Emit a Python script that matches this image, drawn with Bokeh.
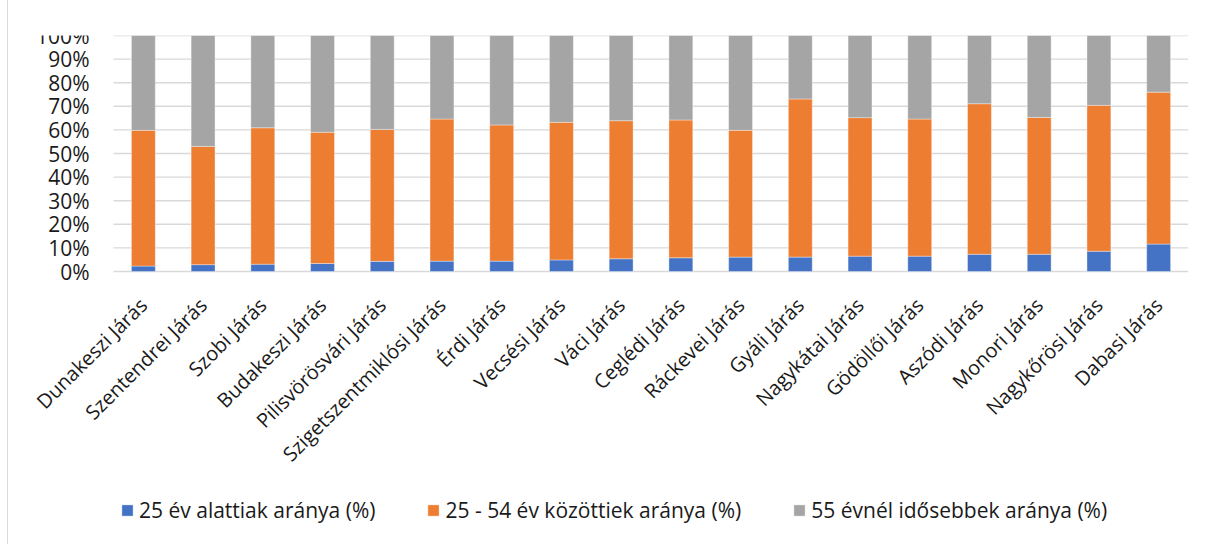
import math
from bokeh.plotting import figure
from bokeh.models import (ColumnDataSource, Range1d, Legend, LegendItem, LabelSet)
from bokeh.core.properties import value
from bokeh.embed import file_html
from bokeh.resources import INLINE

categories = ["Dunakeszi Járás", "Szentendrei Járás", "Szobi Járás", "Budakeszi Járás",
              "Pilisvörösvári Járás", "Szigetszentmiklósi Járás", "Érdi Járás", "Vecsési Járás",
              "Váci Járás", "Ceglédi Járás", "Ráckevei Járás", "Gyáli Járás", "Nagykátai Járás",
              "Gödöllői Járás", "Aszódi Járás", "Monori Járás", "Nagykőrösi Járás", "Dabasi Járás"]
under25 = [2.3, 2.9, 3.1, 3.4, 4.3, 4.4, 4.4, 4.9, 5.4, 5.8, 6.1, 6.1, 6.5, 6.5, 7.3, 7.3, 8.6, 11.6]
mid25_54 = [57.5, 50.1, 57.8, 55.6, 55.9, 60.2, 57.7, 58.3, 58.5, 58.4, 53.7, 67.0, 58.7, 58.1, 63.8, 58.0, 61.8, 64.4]
over55 = [40.2, 47.0, 39.1, 41.0, 39.8, 35.4, 37.9, 36.8, 36.1, 35.8, 40.2, 26.9, 34.8, 35.4, 28.9, 34.7, 29.6, 24.0]
series_names = ["25 év alattiak aránya (%)", "25 - 54 év közöttiek aránya (%)", "55 évnél idősebbek aránya (%)"]
colors = ["#4472C4", "#ED7D31", "#A5A5A5"]
y_ticks = [0, 10, 20, 30, 40, 50, 60, 70, 80, 90, 100]
y_tick_labels = [f"{t}%" for t in y_ticks]

n = len(categories)
keys = ["u", "m", "o"]
src = ColumnDataSource(dict(xi=list(range(n)), cat=categories, u=under25, m=mid25_54, o=over55,
                            base=[0] * n))
tick_src = ColumnDataSource(dict(x0=[-0.5] * len(y_ticks), x1=[n - 0.5] * len(y_ticks),
                                 y=y_ticks, text=y_tick_labels))

FONT = "Open Sans"
TXT = "#1a1a1a"
FRAME_H = 509
PX_PER_PCT = 2.36
PLOT_W = 1075           # width of the category area in px
LEFT_EXTRA = 103        # room left of the category area for the y labels / rotated labels
cat_px = PLOT_W / n

p = figure(x_range=Range1d(-0.5 - LEFT_EXTRA / cat_px, n - 0.5),
           y_range=Range1d(100 - FRAME_H / PX_PER_PCT, 100),
           frame_width=PLOT_W + LEFT_EXTRA, frame_height=FRAME_H,
           output_backend="svg", toolbar_location=None,
           x_axis_location=None, y_axis_location=None,
           min_border_left=2, min_border_right=22, min_border_top=35, min_border_bottom=0)
p.styles = {"border-left": "1px solid #d9d9d9", "margin-left": "7px"}
p.outline_line_color = None
p.xgrid.visible = False
p.ygrid.visible = False

# horizontal gridlines at the y ticks, spanning the category area
p.segment(x0="x0", x1="x1", y0="y", y1="y", source=tick_src,
          line_color="#d9d9d9", line_width=1.4)

rs = p.vbar_stack(keys, x="xi", width=0.4, source=src, color=colors,
                  line_color="white", line_width=0.6, line_alpha=0.6)

# y tick labels
p.add_layout(LabelSet(x="x0", y="y", text="text", source=tick_src, x_offset=-24,
                      text_align="right", text_baseline="middle",
                      text_font=value(FONT), text_font_size="21px", text_color=TXT))

# category labels under the baseline, rotated 45 degrees
p.add_layout(LabelSet(x="xi", y="base", text="cat", source=src, angle=math.pi / 4,
                      text_align="right", text_baseline="middle", y_offset=-30,
                      text_font=value(FONT), text_font_size="20px", text_color=TXT))

legend = Legend(items=[LegendItem(label=nm, renderers=[r]) for nm, r in zip(series_names, rs)],
                orientation="horizontal", location=(LEFT_EXTRA + 7, 20), padding=0, margin=0,
                glyph_width=14, glyph_height=14, label_standoff=5, spacing=51,
                label_text_font=FONT, label_text_font_size="21px", label_text_color=TXT,
                border_line_color=None, background_fill_alpha=0)
p.add_layout(legend, "center")

open("out.html", "w").write(file_html(p, INLINE))
